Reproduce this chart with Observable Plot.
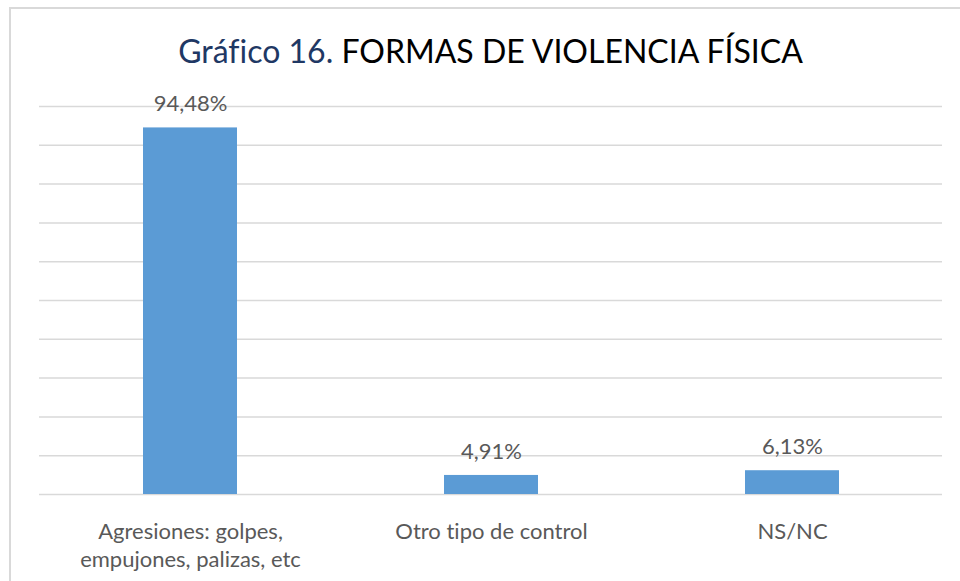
<!DOCTYPE html>
<html>
<head>
<meta charset="utf-8">
<script src="https://cdn.jsdelivr.net/npm/d3@7"></script>
<script src="https://cdn.jsdelivr.net/npm/@observablehq/plot@0.6"></script>
<style>
  html, body { margin: 0; padding: 0; background: #fff; overflow: hidden; }
  #wrap { position: relative; width: 960px; height: 581px; overflow: hidden; }
  #frame { position: absolute; left: 9px; top: 7px; width: 2000px; height: 2000px;
           border-left: 2px solid #d9d9d9; border-top: 2px solid #d9d9d9; box-sizing: border-box; }
  #chart { position: absolute; left: 0; top: 0; }
  svg text { font-variant-ligatures: none; }
</style>
</head>
<body>
<div id="wrap">
  <div id="frame"></div>
  <div id="chart"></div>
</div>
<script>
const categories = ["Agresiones: golpes,\nempujones, palizas, etc", "Otro tipo de control", "NS/NC"];
const values = [94.48, 4.91, 6.13];
const gridTicks = [0, 10, 20, 30, 40, 50, 60, 70, 80, 90, 100];
const titlePrefix = "Gráfico 16.";
const titleMain = " FORMAS DE VIOLENCIA FÍSICA";

const data = categories.map((c, i) => ({category: c, value: values[i]}));
const fmt = v => v.toFixed(2).replace(".", ",") + "%";
const font = "Lato, 'Open Sans', sans-serif";

const chart = Plot.plot({
  width: 960,
  height: 581,
  marginLeft: 39,
  marginRight: 18,
  marginTop: 106,
  marginBottom: 87,
  style: {fontFamily: font, background: "transparent", overflow: "visible"},
  x: {domain: categories, paddingInner: 0.688, paddingOuter: 0.344, label: null},
  y: {domain: [0, 100], axis: null},
  marks: [
    Plot.ruleY(gridTicks, {stroke: "#d9d9d9", strokeWidth: 1.5}),
    Plot.barY(data, {x: "category", y: "value", fill: "#5b9bd5"}),
    Plot.text(data, {x: "category", y: "value", text: d => fmt(d.value), dy: -23.5,
                     fontSize: 22, fill: "#595959"}),
    Plot.axisX({tickSize: 0, tickPadding: 24.4, fontSize: 22, lineAnchor: "top",
                lineHeight: 1.27, fill: "#595959", label: null})
  ]
});

const svg = d3.select(chart);
const t = svg.append("text")
  .attr("x", 490.5).attr("y", 63)
  .attr("text-anchor", "middle")
  .style("font-family", font)
  .style("font-size", "32px");
t.append("tspan").attr("fill", "#1f3864").text(titlePrefix);
t.append("tspan").attr("fill", "#000").text(titleMain);

document.getElementById("chart").appendChild(chart);
</script>
</body>
</html>
